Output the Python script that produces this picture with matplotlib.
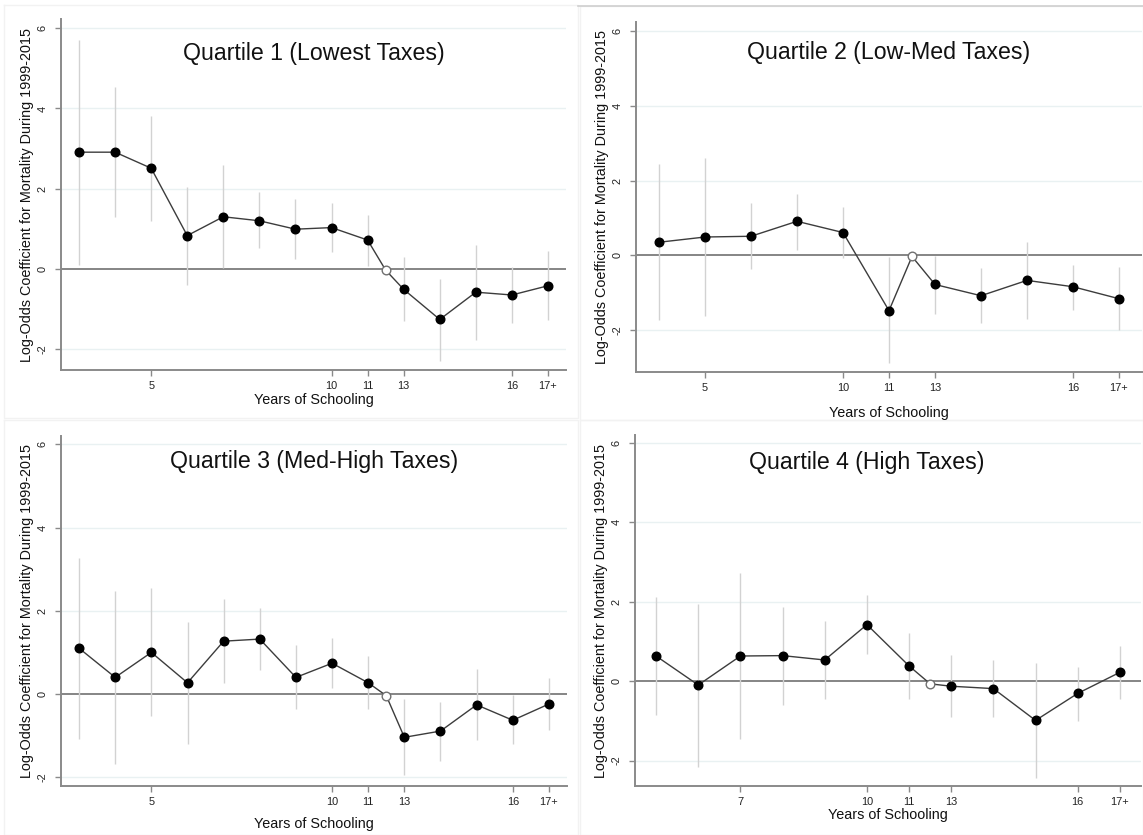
import matplotlib
matplotlib.use("Agg")
import matplotlib.pyplot as plt
from matplotlib.lines import Line2D

plt.rcParams["font.family"] = ["Liberation Sans", "DejaVu Sans"]

W, H = 1143, 835

# x = category slot (reference year 12 sits half way between slots)
q1_pos  = [0, 1, 2, 3, 4, 5, 6, 7, 8, 9, 10, 11, 12, 13]
q1_coef = [2.91, 2.91, 2.51, 0.83, 1.30, 1.20, 0.99, 1.03, 0.72, -0.51, -1.26, -0.58, -0.65, -0.42]
q1_lo   = [0.10, 1.29, 1.20, -0.40, 0.02, 0.52, 0.24, 0.43, 0.08, -1.31, -2.29, -1.77, -1.36, -1.27]
q1_hi   = [5.71, 4.53, 3.80, 2.05, 2.58, 1.91, 1.75, 1.64, 1.35, 0.29, -0.26, 0.60, 0.06, 0.45]
q1_ref  = 8.5
q1_ticks  = [2, 7, 8, 9, 12, 13]
q1_labels = ["5", "10", "11", "13", "16", "17+"]

q2_pos  = [0, 1, 2, 3, 4, 5, 6, 7, 8, 9, 10]
q2_coef = [0.35, 0.49, 0.51, 0.91, 0.61, -1.48, -0.78, -1.08, -0.67, -0.84, -1.16]
q2_lo   = [-1.73, -1.61, -0.36, 0.13, -0.07, -2.87, -1.56, -1.80, -1.70, -1.45, -2.00]
q2_hi   = [2.44, 2.60, 1.40, 1.64, 1.29, -0.04, -0.03, -0.34, 0.36, -0.27, -0.31]
q2_ref  = 5.5
q2_ticks  = [1, 4, 5, 6, 9, 10]
q2_labels = ["5", "10", "11", "13", "16", "17+"]

q3_pos  = [0, 1, 2, 3, 4, 5, 6, 7, 8, 9, 10, 11, 12, 13]
q3_coef = [1.10, 0.40, 1.00, 0.27, 1.27, 1.32, 0.40, 0.74, 0.27, -1.04, -0.89, -0.26, -0.63, -0.24]
q3_lo   = [-1.07, -1.67, -0.53, -1.21, 0.27, 0.58, -0.37, 0.15, -0.37, -1.95, -1.60, -1.10, -1.21, -0.87]
q3_hi   = [3.26, 2.48, 2.54, 1.74, 2.28, 2.06, 1.18, 1.34, 0.91, -0.13, -0.20, 0.60, -0.02, 0.39]
q3_ref  = 8.5
q3_ticks  = [2, 7, 8, 9, 12, 13]
q3_labels = ["5", "10", "11", "13", "16", "17+"]

q4_pos  = [0, 1, 2, 3, 4, 5, 6, 7, 8, 9, 10, 11]
q4_coef = [0.63, -0.10, 0.63, 0.64, 0.53, 1.42, 0.38, -0.13, -0.19, -0.99, -0.31, 0.22]
q4_lo   = [-0.86, -2.16, -1.45, -0.59, -0.44, 0.68, -0.46, -0.90, -0.90, -2.44, -1.01, -0.44]
q4_hi   = [2.12, 1.93, 2.71, 1.86, 1.50, 2.16, 1.21, 0.66, 0.53, 0.45, 0.36, 0.89]
q4_ref  = 6.5
q4_ticks  = [2, 5, 6, 7, 10, 11]
q4_labels = ["7", "10", "11", "13", "16", "17+"]

ref_coef = [-0.03, -0.03, -0.04, -0.07]
titles = ["Quartile 1 (Lowest Taxes)", "Quartile 2 (Low-Med Taxes)",
          "Quartile 3 (Med-High Taxes)", "Quartile 4 (High Taxes)"]
YLAB = "Log-Odds Coefficient for Mortality During 1999-2015"
XLAB = "Years of Schooling"


def px_box(l, t, r, b):
    return [l / W, 1 - b / H, (r - l) / W, (b - t) / H]


def panel(fig, box, pos, coef, lo, hi, ref, ref_y, ticks, labels, ylim,
          title, title_x, title_y, xpad):
    ax = fig.add_axes(px_box(*box))
    ax.set_zorder(2)
    for g in [-2, 2, 4, 6]:
        ax.axhline(g, color="#e9f1f2", lw=1, zorder=0)
    ax.axhline(0, color="#858585", lw=1.4, zorder=1)
    ax.vlines(pos, lo, hi, color="#d2d2d2", lw=1, zorder=2)

    # join filled points with the reference point in x order
    xs = pos + [ref]
    ys = coef + [ref_y]
    order = sorted(range(len(xs)), key=lambda i: xs[i])
    ax.plot([xs[i] for i in order], [ys[i] for i in order],
            color="#3c3c3c", lw=1, zorder=3)
    ax.plot(pos, coef, "o", color="black", ms=6.2, zorder=4)
    ax.plot([ref], [ref_y], "o", mfc="white", mec="#707070", mew=1, ms=6.2, zorder=4)

    ax.set_xlim(-0.5, max(pos) + 0.5)
    ax.set_ylim(*ylim)
    ax.set_xticks(ticks)
    ax.set_xticklabels(labels)
    ax.set_yticks([-2, 0, 2, 4, 6])
    ax.set_yticklabels(["-2", "0", "2", "4", "6"], rotation=90, va="center")
    for s in ["top", "right"]:
        ax.spines[s].set_visible(False)
    for s in ["left", "bottom"]:
        ax.spines[s].set_color("#8a8a8a")
        ax.spines[s].set_linewidth(1.4)
    ax.tick_params(axis="both", colors="#8a8a8a", length=4.5, width=1,
                   labelsize=7.9, labelcolor="#222222", pad=3.5)
    ax.tick_params(axis="y", pad=5)
    ax.set_ylabel(YLAB, fontsize=10.4, labelpad=3, color="#111111")
    ax.set_xlabel(XLAB, fontsize=10.4, labelpad=xpad, color="#111111")
    ax.text(title_x, title_y, title, transform=ax.transAxes, ha="center",
            va="center", fontsize=16.7, color="#111111")
    ax.patch.set_alpha(0)
    return ax


fig = plt.figure(figsize=(W / 100, H / 100), dpi=100)

# faint borders of the four pasted panels
for (l, t, r, b) in [(4, 5, 578, 418), (580, 6, 1143, 420),
                     (4, 420, 578, 835), (580, 420, 1143, 835)]:
    fig.add_artist(Line2D([l / W, r / W, r / W, l / W, l / W],
                          [1 - t / H, 1 - t / H, 1 - b / H, 1 - b / H, 1 - t / H],
                          color="#f2f2f2", lw=1, zorder=0))
fig.add_artist(Line2D([578 / W, 1], [1 - 6 / H, 1 - 6 / H], color="#cfcfcf", lw=1.2, zorder=0))

panel(fig, (61, 19, 566, 370), q1_pos, q1_coef, q1_lo, q1_hi, q1_ref, ref_coef[0],
      q1_ticks, q1_labels, (-2.52, 6.23), titles[0], 0.5, 0.903, 1.5)
panel(fig, (636, 22, 1142, 372), q2_pos, q2_coef, q2_lo, q2_hi, q2_ref, ref_coef[1],
      q2_ticks, q2_labels, (-3.12, 6.24), titles[1], 0.5, 0.914, 9)
panel(fig, (61, 436, 567, 786), q3_pos, q3_coef, q3_lo, q3_hi, q3_ref, ref_coef[2],
      q3_ticks, q3_labels, (-2.21, 6.2), titles[2], 0.5, 0.926, 7)
panel(fig, (635, 435, 1141, 786), q4_pos, q4_coef, q4_lo, q4_hi, q4_ref, ref_coef[3],
      q4_ticks, q4_labels, (-2.64, 6.19), titles[3], 0.457, 0.923, 0.5)

fig.savefig("out.png", dpi=100)
